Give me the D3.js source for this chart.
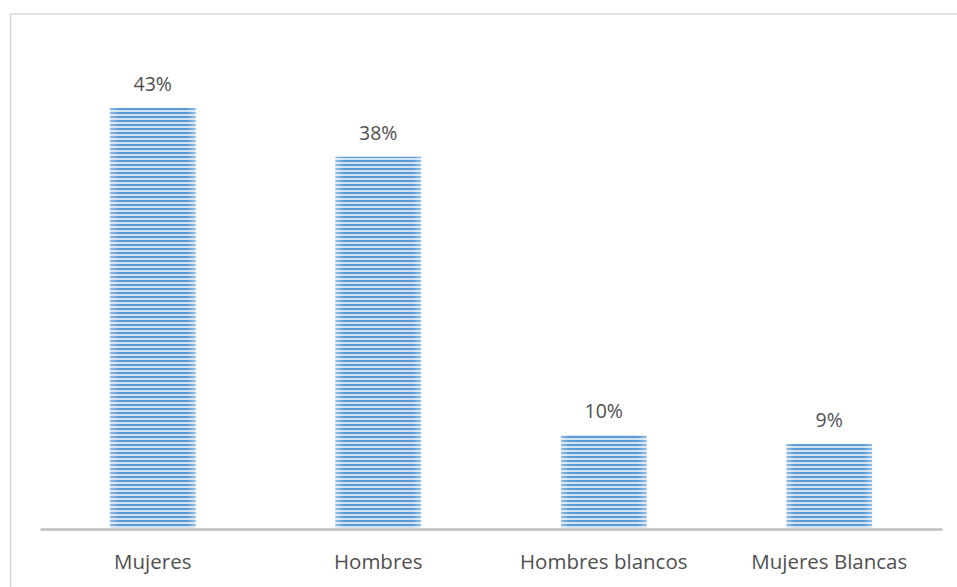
<!DOCTYPE html>
<html><head><meta charset="utf-8">
<script src="https://cdn.jsdelivr.net/npm/d3@7"></script>
<style>html,body{margin:0;padding:0;background:#fff;}</style>
</head><body><svg id="c" width="957" height="587"></svg>
<script>
const categories = ["Mujeres", "Hombres", "Hombres blancos", "Mujeres Blancas"];
const values = [0.43, 0.38, 0.095, 0.086];

const svg = d3.select("#c");
const left = 40, right = 942, base = 528;
const FONT = "'Open Sans', 'Noto Sans', sans-serif";

// chart border
svg.append("rect").attr("x", 10.5).attr("y", 14).attr("width", 960).attr("height", 600)
  .attr("fill", "none").attr("stroke", "#d9d9d9").attr("stroke-width", 1.5);

const defs = svg.append("defs");
const pat = defs.append("pattern").attr("id", "stripes").attr("patternUnits", "userSpaceOnUse")
  .attr("width", 8).attr("height", 4);
pat.append("rect").attr("width", 8).attr("height", 4).attr("fill", "#d2e3f4");
pat.append("rect").attr("y", 0).attr("width", 8).attr("height", 2).attr("fill", "#5b9bd5");

const grad = defs.append("linearGradient").attr("id", "edge").attr("x1", 0).attr("x2", 1).attr("y1", 0).attr("y2", 0);
grad.append("stop").attr("offset", "0").attr("stop-color", "#fff").attr("stop-opacity", 0.35);
grad.append("stop").attr("offset", "0.1").attr("stop-color", "#fff").attr("stop-opacity", 0);
grad.append("stop").attr("offset", "0.9").attr("stop-color", "#fff").attr("stop-opacity", 0);
grad.append("stop").attr("offset", "1").attr("stop-color", "#fff").attr("stop-opacity", 0.35);

const x = d3.scaleBand().domain(categories).range([left, right]).paddingInner(0.62).paddingOuter(0.31);
const y = d3.scaleLinear().domain([0, 0.5]).range([base, base - 488.5]);

const g = svg.append("g");
g.selectAll("rect.bar").data(values).join("rect").attr("class", "bar")
  .attr("x", (d, i) => x(categories[i])).attr("width", x.bandwidth())
  .attr("y", d => y(d)).attr("height", d => base - y(d)).attr("fill", "url(#stripes)");
g.selectAll("rect.edge").data(values).join("rect").attr("class", "edge")
  .attr("x", (d, i) => x(categories[i])).attr("width", x.bandwidth())
  .attr("y", d => y(d)).attr("height", d => base - y(d)).attr("fill", "url(#edge)");

g.selectAll("text.val").data(values).join("text").attr("class", "val")
  .attr("x", (d, i) => x(categories[i]) + x.bandwidth() / 2)
  .attr("y", d => y(d) - 17).attr("text-anchor", "middle")
  .attr("font-family", FONT).attr("font-size", 19.5).attr("fill", "#505050")
  .text(d => Math.round(d * 100) + "%");

// axis
const axis = d3.axisBottom(x).tickSize(0);
const ag = svg.append("g").attr("transform", `translate(0,${base + 1})`).call(axis);
ag.select(".domain").attr("stroke", "#bfbfbf").attr("stroke-width", 2.5);
ag.selectAll("text").attr("y", 40).attr("dy", 0)
  .attr("font-family", FONT).attr("font-size", 20.5).attr("fill", "#505050");
</script></body></html>
